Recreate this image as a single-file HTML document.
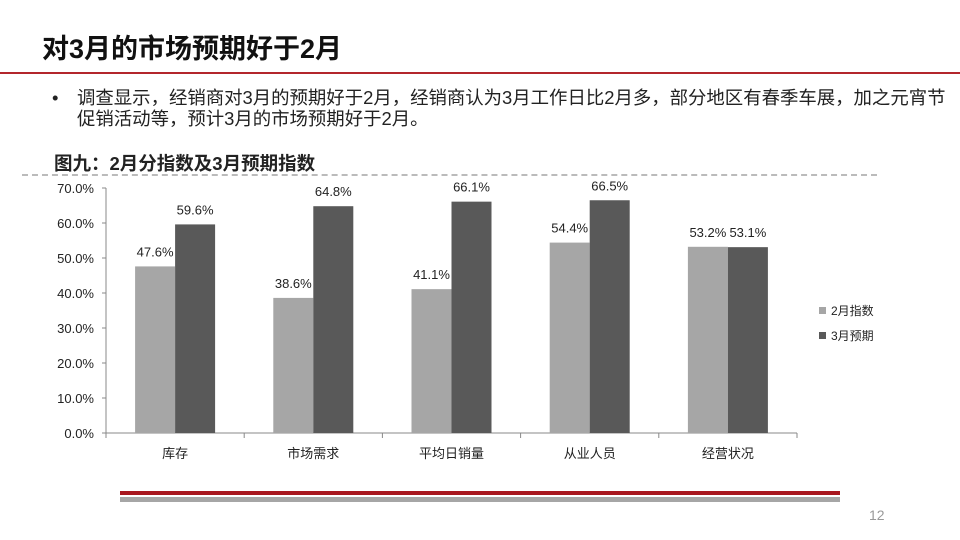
<!DOCTYPE html>
<html><head><meta charset="utf-8"><style>
body{margin:0;width:960px;height:540px;background:#fff;overflow:hidden;position:relative;font-family:"Liberation Sans","Noto Sans CJK SC",sans-serif}
.abs{position:absolute}
</style></head><body>
<div class="abs" style="left:42px;top:27px;font-size:27px;font-weight:bold;color:#111">对3月的市场预期好于2月</div>
<div class="abs" style="left:0;top:72px;width:960px;height:2px;background:#b3262c"></div>
<div class="abs" style="left:52px;top:87px;width:900px;font-size:18.4px;line-height:21px;color:#222">
<span style="position:absolute;left:0">•</span><div style="margin-left:25px;width:872px">调查显示，经销商对3月的预期好于2月，经销商认为3月工作日比2月多，部分地区有春季车展，加之元宵节促销活动等，预计3月的市场预期好于2月。</div></div>
<div class="abs" style="left:54px;top:150px;font-size:18.5px;font-weight:bold;color:#222">图九：2月分指数及3月预期指数</div>
<div class="abs" style="left:22px;top:174px;width:855px;border-top:2px dashed #bbb"></div>
<svg class="abs" style="left:0;top:0" width="960" height="540" id="chart"></svg>
<div class="abs" style="left:120px;top:491px;width:720px;height:4px;background:#a8161e"></div>
<div class="abs" style="left:120px;top:497px;width:720px;height:5px;background:#a6a6a6"></div>
<div class="abs" style="left:869px;top:507px;font-size:14px;color:#999">12</div>
<script>
const categories=["库存","市场需求","平均日销量","从业人员","经营状况"];
const feb=[47.6,38.6,41.1,54.4,53.2];
const mar=[59.6,64.8,66.1,66.5,53.1];
const ticks=[0,10,20,30,40,50,60,70];
const seriesNames=["2月指数","3月预期"];
const colors=["#a6a6a6","#595959"];
const NS="http://www.w3.org/2000/svg";
const svg=document.getElementById('chart');
const x0=106,x1=797,y0=433,yTop=188,maxV=70;
const y=v=>y0-(v/maxV)*(y0-yTop);
const cw=(x1-x0)/categories.length;
const bw=40;
function mk(t,a){const e=document.createElementNS(NS,t);for(const k in a)e.setAttribute(k,a[k]);svg.appendChild(e);return e;}
let ax=mk('line',{x1:x0,y1:yTop,x2:x0,y2:y0,stroke:'#888'});


let bx=mk('line',{x1:x0,y1:y0,x2:x1,y2:y0,stroke:'#888'});


ticks.forEach(t=>{
 mk('line',{x1:x0-4,y1:y(t),x2:x0,y2:y(t),stroke:'#888'});
 const tx=mk('text',{x:x0-12,y:y(t)+5,'text-anchor':'end','font-size':13,fill:'#222'});
 tx.textContent=t.toFixed(1)+'%';
 
 
});
for(let i=0;i<=categories.length;i++)mk('line',{x1:x0+i*cw,y1:y0,x2:x0+i*cw,y2:y0+5,stroke:'#888'});
categories.forEach((c,i)=>{
 const cx=x0+cw*(i+0.5);
 [feb,mar].forEach((s,j)=>{
  const bx0=cx-bw+j*bw;
  const r=mk('rect',{x:bx0,y:y(s[i]),width:bw,height:y0-y(s[i]),fill:colors[j]});
  
  
  const l=mk('text',{x:bx0+bw/2,y:y(s[i])-10,'text-anchor':'middle','font-size':13,fill:'#222'});
  l.textContent=s[i].toFixed(1)+'%';
  
  
 });
 const cl=mk('text',{x:cx,y:y0+25,'text-anchor':'middle','font-size':13,fill:'#222'});
 cl.textContent=c;
 
 
});
seriesNames.forEach((n,j)=>{
 const ly=311+j*25;
 const r=mk('rect',{x:819,y:ly-4,width:7,height:7,fill:colors[j]});
 
 
 const t=mk('text',{x:831,y:ly+4,'font-size':12,fill:'#222'});
 t.textContent=n;
 
 
});
</script>
</body></html>
